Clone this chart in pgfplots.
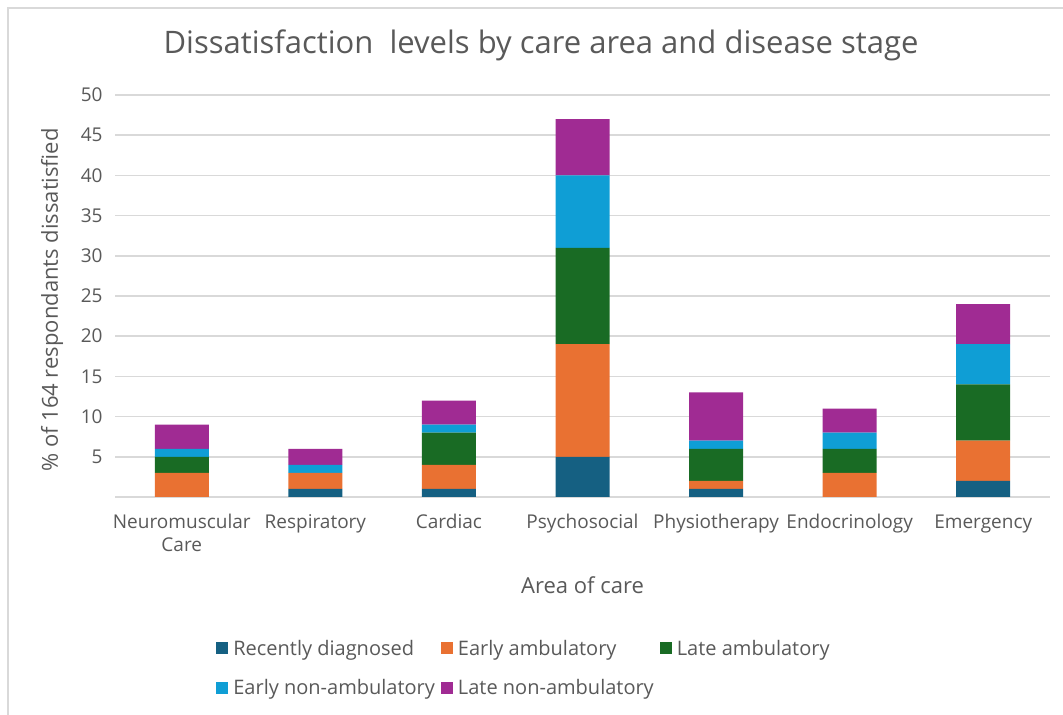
\documentclass[border=0pt]{standalone}
\usepackage{fontspec}
\setmainfont{Open Sans}
\usepackage{pgfplots}
\pgfplotsset{compat=1.18}
\definecolor{c1}{HTML}{156082}
\definecolor{c2}{HTML}{E97132}
\definecolor{c3}{HTML}{196B24}
\definecolor{c4}{HTML}{0F9ED5}
\definecolor{c5}{HTML}{A02B93}
\definecolor{txt}{HTML}{595959}
\definecolor{gridc}{HTML}{D9D9D9}
\begin{document}
\begin{tikzpicture}
\path[use as bounding box] (0bp,0bp) rectangle (1063bp,715bp);
\draw[gridc, line width=2bp] (8bp,0bp) -- (8bp,707bp) -- (1063bp,707bp);
\node[text=txt, font=\fontsize{31bp}{36bp}\selectfont] at (541bp,670bp) {Dissatisfaction\ \ levels by care area and disease stage};
\begin{axis}[
  at={(115bp,218bp)}, anchor=south west,
  width=935bp, height=402bp, scale only axis,
  ybar stacked, bar width=54bp,
  xmin=-0.5, xmax=6.5, ymin=0, ymax=50,
  xtick={0,...,6},
  xticklabels={{Neuromuscular\\Care},Respiratory,Cardiac,Psychosocial,Physiotherapy,Endocrinology,Emergency},
  ytick={5,10,...,50},
  extra y ticks={0}, extra y tick labels={},
  extra y tick style={grid=major},
  ymajorgrids, grid style={gridc, line width=1.5bp},
  axis line style={draw=none}, tick style={draw=none},
  /pgf/number format/assume math mode=true,
  tick label style={text=txt, font=\fontsize{19bp}{23bp}\selectfont},
  yticklabel style={xshift=-9bp},
  xticklabel style={anchor=north, yshift=-14bp, align=center},
  xlabel={Area of care},
  ylabel={\% of 164 respondants dissatisfied},
  xlabel style={text=txt, font=\fontsize{22bp}{26bp}\selectfont, at={(axis description cs:0.5,-0.219)}, anchor=center},
  ylabel style={text=txt, font=\fontsize{22bp}{26bp}\selectfont, at={(axis description cs:-0.0674,0.49)}, anchor=center},
  legend columns=3, legend cell align=left,
  legend style={at={(axis description cs:0.105,-0.345)}, anchor=north west, draw=none, fill=none,
    text=txt, font=\fontsize{20bp}{24bp}\selectfont, row sep=19bp,
    /tikz/every even column/.append style={column sep=4bp}},
  legend image code/.code={\fill[#1] (0bp,-6bp) rectangle (12bp,6bp); \path (15bp,0bp);},
  every axis plot/.append style={draw=none},
]
\addplot[fill=c1] coordinates {(0,0) (1,1) (2,1) (3,5) (4,1) (5,0) (6,2)};
\addplot[fill=c2] coordinates {(0,3) (1,2) (2,3) (3,14) (4,1) (5,3) (6,5)};
\addplot[fill=c3] coordinates {(0,2) (1,0) (2,4) (3,12) (4,4) (5,3) (6,7)};
\addplot[fill=c4] coordinates {(0,1) (1,1) (2,1) (3,9) (4,1) (5,2) (6,5)};
\addplot[fill=c5] coordinates {(0,3) (1,2) (2,3) (3,7) (4,6) (5,3) (6,5)};
\legend{Recently diagnosed,Early ambulatory,Late ambulatory,Early non-ambulatory,Late non-ambulatory}
\end{axis}
\end{tikzpicture}
\end{document}
